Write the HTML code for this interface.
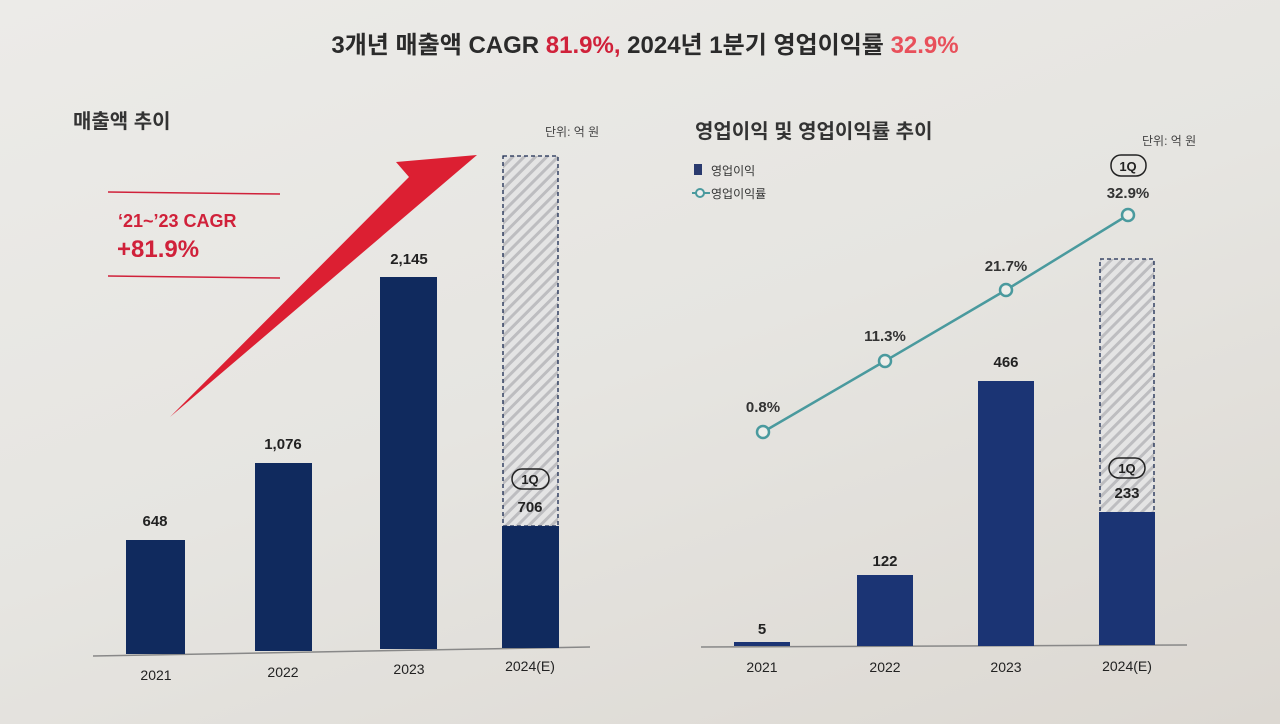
<!DOCTYPE html>
<html><head><meta charset="utf-8"><style>
html,body{margin:0;padding:0;width:1280px;height:724px;overflow:hidden}
body{background:linear-gradient(160deg,#ecebe8 0%,#e6e5e1 50%,#dcd8d2 100%)}
svg text{font-family:"Liberation Sans","Noto Sans CJK KR",sans-serif}
</style></head><body>
<svg width="1280" height="724" viewBox="0 0 1280 724" xmlns="http://www.w3.org/2000/svg">
<defs>
<pattern id="h" width="8" height="8" patternUnits="userSpaceOnUse" patternTransform="rotate(45)">
<rect width="8" height="8" fill="#e4e4e4"/><rect width="3" height="8" fill="#bdbdc0"/>
</pattern>
</defs>
<text x="645" y="53" text-anchor="middle" font-size="24" font-weight="bold" fill="#2b2b2b">3개년 매출액 CAGR <tspan fill="#d0213a">81.9%,</tspan> 2024년 1분기 영업이익률 <tspan fill="#e8505b">32.9%</tspan></text>

<!-- left chart -->
<text x="73" y="128" font-size="20" font-weight="bold" fill="#333">매출액 추이</text>
<text x="545" y="136" font-size="12" fill="#444">단위: 억 원</text>
<line x1="108" y1="192" x2="280" y2="194" stroke="#d0213a" stroke-width="1.5"/>
<line x1="108" y1="276" x2="280" y2="278" stroke="#d0213a" stroke-width="1.5"/>
<text x="118" y="227" font-size="18" font-weight="bold" fill="#d0213a">‘21~’23 CAGR</text>
<text x="117" y="257" font-size="24" font-weight="bold" fill="#d0213a">+81.9%</text>
<polygon points="170,417 409,177 396,162 477,155" fill="#dc1f32"/>
<line x1="93" y1="656" x2="590" y2="647" stroke="#888" stroke-width="1.5"/>
<rect x="126" y="540" width="59" height="114" fill="#102a5e"/>
<rect x="255" y="463" width="57" height="188" fill="#102a5e"/>
<rect x="380" y="277" width="57" height="372" fill="#102a5e"/>
<rect x="503" y="156" width="55" height="370" fill="url(#h)" stroke="#1a2a50" stroke-width="1.3" stroke-dasharray="4,3"/>
<rect x="502" y="526" width="57" height="122" fill="#102a5e"/>
<g font-size="15" font-weight="bold" fill="#222" text-anchor="middle">
<text x="155" y="526">648</text>
<text x="283" y="449">1,076</text>
<text x="409" y="264">2,145</text>
<text x="530" y="512">706</text>
</g>
<rect x="512" y="469" width="37" height="20" rx="10" fill="none" stroke="#222" stroke-width="1.5"/>
<text x="530" y="484" font-size="13" font-weight="bold" text-anchor="middle" fill="#222">1Q</text>
<g font-size="14" fill="#222" text-anchor="middle">
<text x="156" y="680">2021</text><text x="283" y="677">2022</text><text x="409" y="674">2023</text><text x="530" y="671">2024(E)</text>
</g>

<!-- right chart -->
<text x="695" y="138" font-size="20" font-weight="bold" fill="#333">영업이익 및 영업이익률 추이</text>
<text x="1142" y="145" font-size="12" fill="#444">단위: 억 원</text>
<rect x="694" y="164" width="8" height="11" fill="#2a3a6e"/>
<text x="711" y="175" font-size="12" fill="#333">영업이익</text>
<line x1="692" y1="193" x2="710" y2="193" stroke="#4a9a9e" stroke-width="2"/>
<circle cx="700" cy="193" r="4" fill="#eee" stroke="#4a9a9e" stroke-width="2"/>
<text x="711" y="198" font-size="12" fill="#333">영업이익률</text>
<line x1="701" y1="647" x2="1187" y2="645" stroke="#888" stroke-width="1.5"/>
<rect x="734" y="642" width="56" height="4" fill="#1b3474"/>
<rect x="857" y="575" width="56" height="71" fill="#1b3474"/>
<rect x="978" y="381" width="56" height="265" fill="#1b3474"/>
<rect x="1100" y="259" width="54" height="254" fill="url(#h)" stroke="#1a2a50" stroke-width="1.3" stroke-dasharray="4,3"/>
<rect x="1099" y="512" width="56" height="133" fill="#1b3474"/>
<g font-size="15" font-weight="bold" fill="#222" text-anchor="middle">
<text x="762" y="634">5</text>
<text x="885" y="566">122</text>
<text x="1006" y="367">466</text>
<text x="1127" y="498">233</text>
</g>
<rect x="1109" y="458" width="36" height="20" rx="10" fill="none" stroke="#222" stroke-width="1.5"/>
<text x="1127" y="473" font-size="13" font-weight="bold" text-anchor="middle" fill="#222">1Q</text>
<rect x="1111" y="155" width="35" height="21" rx="10" fill="none" stroke="#222" stroke-width="1.5"/>
<text x="1128" y="171" font-size="13" font-weight="bold" text-anchor="middle" fill="#222">1Q</text>
<polyline points="763,432 885,361 1006,290 1128,215" fill="none" stroke="#4a9a9e" stroke-width="2.5"/>
<g fill="#eeeeea" stroke="#4a9a9e" stroke-width="2.5">
<circle cx="763" cy="432" r="6"/><circle cx="885" cy="361" r="6"/><circle cx="1006" cy="290" r="6"/><circle cx="1128" cy="215" r="6"/>
</g>
<g font-size="15" font-weight="bold" fill="#333" text-anchor="middle">
<text x="763" y="412">0.8%</text><text x="885" y="341">11.3%</text><text x="1006" y="271">21.7%</text><text x="1128" y="198">32.9%</text>
</g>
<g font-size="14" fill="#222" text-anchor="middle">
<text x="762" y="672">2021</text><text x="885" y="672">2022</text><text x="1006" y="672">2023</text><text x="1127" y="671">2024(E)</text>
</g>
</svg>
</body></html>
